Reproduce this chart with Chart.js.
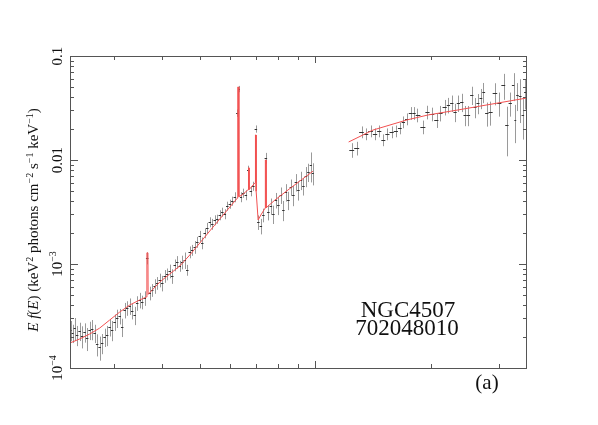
<!DOCTYPE html>
<html>
<head>
<meta charset="utf-8">
<script src="https://cdn.jsdelivr.net/npm/chart.js@4"></script>
<style>
  html, body { margin: 0; padding: 0; background: #fff; }
</style>
</head>
<body>
<canvas id="spec" width="598" height="425"></canvas>
<script>
// XIS (2.3-10 keV) spectrum: energy (keV), E f(E), relative error
const xisE = [
  2.308, 2.336, 2.364, 2.400, 2.436, 2.473, 2.510, 2.548, 2.587, 2.626,
  2.666, 2.706, 2.747, 2.788, 2.830, 2.873, 2.916, 2.960, 3.005, 3.051,
  3.097, 3.144, 3.191, 3.239, 3.288, 3.338, 3.388, 3.439, 3.491, 3.544,
  3.597, 3.652, 3.707, 3.763, 3.819, 3.878, 3.937, 3.997, 4.057, 4.118,
  4.180, 4.243, 4.307, 4.372, 4.438, 4.505, 4.573, 4.642, 4.712, 4.783,
  4.856, 4.929, 5.003, 5.078, 5.155, 5.233, 5.313, 5.393, 5.474, 5.557,
  5.641, 5.726, 5.812, 5.900, 5.989, 6.080, 6.172, 6.267, 6.329, 6.397,
  6.494, 6.592, 6.692, 6.792, 6.895, 7.000, 7.106, 7.213, 7.322, 7.432,
  7.544, 7.658, 7.774, 7.891, 8.010, 8.131, 8.254, 8.379, 8.505, 8.634,
  8.764, 8.897, 9.031, 9.168, 9.306, 9.447, 9.590, 9.734, 9.85
];
const xisF = [
  2.32e-4, 2.17e-4, 2.42e-4, 2.08e-4, 2.27e-4, 2.03e-4, 2.22e-4, 1.94e-4, 2.32e-4, 2.37e-4,
  2.17e-4, 1.70e-4, 1.59e-4, 1.74e-4, 1.99e-4, 2.08e-4, 2.48e-4, 2.32e-4, 2.77e-4, 3.03e-4,
  3.16e-4, 2.48e-4, 3.61e-4, 3.78e-4, 3.95e-4, 3.53e-4, 3.23e-4, 4.22e-4, 4.51e-4, 4.31e-4,
  4.71e-4, 1.14e-3, 5.26e-4, 5.62e-4, 6.15e-4, 6.57e-4, 7.02e-4, 6.57e-4, 7.67e-4, 8.01e-4,
  8.57e-4, 7.67e-4, 9.78e-4, 1.045e-3, 9.57e-4, 1.045e-3, 1.093e-3, 8.76e-4, 1.304e-3, 1.363e-3,
  1.457e-3, 1.627e-3, 1.859e-3, 1.592e-3, 1.987e-3, 2.219e-3, 2.534e-3, 2.424e-3, 2.649e-3, 2.708e-3,
  2.959e-3, 3.162e-3, 3.026e-3, 3.612e-3, 3.775e-3, 4.035e-3, 4.409e-3, 0.0283, 0.0482, 4.41e-3,
  4.82e-3, 4.61e-3, 8.01e-3, 5.03e-3, 5.62e-3, 0.0199, 2.53e-3, 2.32e-3, 2.96e-3, 0.01045,
  3.16e-3, 3.61e-3, 3.03e-3, 4.12e-3, 3.69e-3, 4.61e-3, 3.31e-3, 4.92e-3, 4.12e-3, 5.50e-3,
  4.61e-3, 6.15e-3, 5.15e-3, 6.42e-3, 5.62e-3, 7.02e-3, 7.67e-3, 8.95e-3, 7.50e-3
];
const xisErr = [
  0.22, 0.2, 0.25, 0.22, 0.2, 0.24, 0.21, 0.25, 0.2, 0.22,
  0.2, 0.24, 0.26, 0.22, 0.2, 0.22, 0.19, 0.22, 0.18, 0.2,
  0.17, 0.2, 0.17, 0.16, 0.18, 0.17, 0.2, 0.16, 0.17, 0.15,
  0.16, 0.13, 0.15, 0.14, 0.16, 0.14, 0.15, 0.17, 0.14, 0.13,
  0.15, 0.16, 0.13, 0.14, 0.12, 0.15, 0.18, 0.12, 0.13, 0.12,
  0.14, 0.12, 0.12, 0.13, 0.11, 0.12, 0.11, 0.12, 0.11, 0.1,
  0.11, 0.1, 0.11, 0.1, 0.1, 0.1, 0.11, 0.08, 0.07, 0.11,
  0.1, 0.11, 0.1, 0.11, 0.1, 0.08, 0.16, 0.17, 0.15, 0.12,
  0.17, 0.18, 0.2, 0.17, 0.2, 0.18, 0.22, 0.19, 0.2, 0.18,
  0.22, 0.19, 0.21, 0.2, 0.19, 0.22, 0.2, 0.32, 0.24
];

// HXD-PIN (12-35 keV) spectrum
const pinE = [
  12.43, 12.80, 13.19, 13.53, 13.92, 14.29, 14.66, 15.02, 15.38, 15.79,
  16.18, 16.60, 16.93, 17.28, 17.70, 18.05, 18.41, 19.09, 19.55, 20.07,
  20.68, 21.09, 21.74, 22.17, 22.63, 23.08, 23.54, 24.03, 24.51, 25.00,
  25.51, 26.02, 26.45, 26.98, 27.35, 27.91, 28.47, 29.34, 30.06, 30.84,
  31.48, 32.11, 32.75, 33.08, 33.48, 34.09, 34.65, 35.13
];
const pinF = [
  0.0125, 0.0130, 0.0186, 0.0178, 0.0190, 0.0178, 0.0190, 0.0156, 0.0178, 0.0186,
  0.0190, 0.0203, 0.0232, 0.0248, 0.0283, 0.0283, 0.0271, 0.0208, 0.0289, 0.0277,
  0.0242, 0.0283, 0.0323, 0.0338, 0.0353, 0.0289, 0.0353, 0.0361, 0.0271, 0.0271,
  0.0422, 0.0323, 0.0353, 0.0395, 0.0451, 0.0283, 0.0289, 0.0441, 0.0353, 0.0526,
  0.0217, 0.0353, 0.0526, 0.0242, 0.0422, 0.0412, 0.0271, 0.0451
];
const pinErr = [
  0.16, 0.15, 0.13, 0.13, 0.13, 0.13, 0.13, 0.13, 0.13, 0.13,
  0.13, 0.13, 0.13, 0.13, 0.14, 0.14, 0.15, 0.15, 0.15, 0.15,
  0.16, 0.17, 0.17, 0.17, 0.18, 0.2, 0.18, 0.2, 0.22, 0.22,
  0.2, 0.22, 0.22, 0.22, 0.22, 0.26, 0.26, 0.24, 0.26, 0.28,
  0.5, 0.26, 0.3, 0.4, 0.3, 0.45, 0.42, 0.32
];

// best-fit model (red)
const modelXisE = [
  2.30, 2.436, 2.587, 2.747, 2.916, 3.097, 3.288, 3.491, 3.640, 3.645,
  3.668, 3.672, 3.937, 4.180, 4.438, 4.712, 5.003, 5.313, 5.641, 5.989,
  6.265, 6.28, 6.318, 6.322, 6.44, 6.672, 6.695, 6.698, 6.72, 6.723,
  6.957, 6.98, 6.983, 7.008, 7.012, 7.096, 7.213, 7.40, 7.41, 7.44,
  7.444, 7.845, 8.685, 9.85
];
const modelXisF = [
  1.74e-4, 1.90e-4, 2.12e-4, 2.42e-4, 2.89e-4, 3.45e-4, 4.03e-4, 4.51e-4, 4.82e-4, 1.28e-3,
  1.28e-3, 5.1e-4, 6.71e-4, 8.01e-4, 9.57e-4, 1.22e-3, 1.59e-3, 2.08e-3, 2.71e-3, 3.53e-3,
  4.3e-3, 0.0503, 0.0503, 4.45e-3, 4.6e-3, 5.15e-3, 5.17e-3, 8.4e-3, 8.4e-3, 5.2e-3,
  6.01e-3, 6.05e-3, 0.0174, 0.0174, 5.0e-3, 2.65e-3, 2.96e-3, 3.45e-3, 0.01, 0.01,
  3.47e-3, 4.12e-3, 5.50e-3, 7.8e-3
];
const modelPinE = [12.2, 14.11, 17.31, 19.63, 23.5, 35.5];
const modelPinF = [0.0149, 0.0194, 0.0243, 0.0271, 0.0303, 0.0395];

// axes
const xMin = 2.3, xMax = 35.5;
const yMin = 1e-4, yMax = 0.1;
const xMajorTicks = [10];
const xMinorTicks = [3, 4, 5, 6, 7, 8, 9, 20, 30];
const yDecades = [1e-4, 1e-3, 1e-2, 0.1];
const yMinorMant = [2, 3, 4, 5, 6, 7, 8, 9];
const yTickBase = ['10', '10', '0.01', '0.1'];
const yTickSup = ['\u22124', '\u22123', '', ''];

const SERIF = '"Liberation Serif", "Times New Roman", serif';

function pts(E, F) { return E.map((e, i) => ({ x: e, y: F[i] })); }

function drawErrors(ctx, xs, ys, E, F, err) {
  for (let i = 0; i < E.length; i++) {
    const px = xs.getPixelForValue(E[i]);
    const nx = i < E.length - 1 ? xs.getPixelForValue(E[i + 1]) : null;
    const pv = i > 0 ? xs.getPixelForValue(E[i - 1]) : null;
    const prev = pv !== null ? pv : px - (nx - px);
    const next = nx !== null ? nx : px + (px - prev);
    const xl = (px + prev) / 2, xr = (px + next) / 2;
    const py = ys.getPixelForValue(F[i]);
    const yh = ys.getPixelForValue(F[i] * (1 + err[i]));
    const yl = ys.getPixelForValue(F[i] * (1 - err[i]));
    const cx = Math.round(px) + 0.5;
    ctx.strokeStyle = '#9a9a9a';
    ctx.beginPath(); ctx.moveTo(cx, yh); ctx.lineTo(cx, yl); ctx.stroke();
    ctx.strokeStyle = '#333';
    const cy = Math.round(py) + 0.5;
    ctx.beginPath(); ctx.moveTo(xl, cy); ctx.lineTo(xr, cy); ctx.stroke();
  }
}

// text made of parts (normal / italic / superscript), centred at origin
function drawParts(ctx, parts) {
  let w = 0;
  parts.forEach(p => { ctx.font = p.font; w += ctx.measureText(p.t).width; });
  let x = -w / 2;
  parts.forEach(p => {
    ctx.font = p.font;
    ctx.fillText(p.t, x, p.dy || 0);
    x += ctx.measureText(p.t).width;
  });
}

const specPlugin = {
  id: 'specPlugin',
  beforeDatasetsDraw(chart) {
    const { ctx, chartArea: a } = chart;
    const xs = chart.scales.x, ys = chart.scales.y;
    ctx.save();
    ctx.beginPath(); ctx.rect(a.left, a.top, a.right - a.left, a.bottom - a.top); ctx.clip();
    ctx.lineWidth = 1;
    drawErrors(ctx, xs, ys, xisE, xisF, xisErr);
    drawErrors(ctx, xs, ys, pinE, pinF, pinErr);
    ctx.restore();
  },
  afterDatasetsDraw(chart) {
    const { ctx, chartArea: a } = chart;
    const xs = chart.scales.x, ys = chart.scales.y;
    ctx.save();
    ctx.strokeStyle = '#555';
    ctx.lineWidth = 1;
    ctx.strokeRect(a.left + 0.5, a.top + 0.5, a.right - a.left - 1, a.bottom - a.top);

    const tick = (x1, y1, x2, y2) => { ctx.beginPath(); ctx.moveTo(x1, y1); ctx.lineTo(x2, y2); ctx.stroke(); };
    // x ticks, pointing inward on bottom and top
    xMajorTicks.concat(xMinorTicks).forEach(v => {
      const len = xMajorTicks.includes(v) ? 7 : 4;
      const x = Math.round(xs.getPixelForValue(v)) + 0.5;
      tick(x, a.bottom, x, a.bottom - len);
      tick(x, a.top, x, a.top + len);
    });
    // y ticks on left and right
    yDecades.forEach(d => {
      const y = Math.round(ys.getPixelForValue(d)) + 0.5;
      tick(a.left, y, a.left + 8, y);
      tick(a.right, y, a.right - 8, y);
      if (d < yMax) {
        yMinorMant.forEach(m => {
          const ym = Math.round(ys.getPixelForValue(m * d)) + 0.5;
          tick(a.left, ym, a.left + 4, ym);
          tick(a.right, ym, a.right - 4, ym);
        });
      }
    });

    // y tick labels, rotated
    ctx.fillStyle = '#111';
    ctx.textBaseline = 'alphabetic';
    yDecades.forEach((d, i) => {
      const y = ys.getPixelForValue(d);
      ctx.save();
      ctx.translate(a.left - 8, y);
      ctx.rotate(-Math.PI / 2);
      const parts = [{ t: yTickBase[i], font: '15px ' + SERIF, dy: 0 }];
      if (yTickSup[i]) parts.push({ t: yTickSup[i], font: '10px ' + SERIF, dy: -6 });
      drawParts(ctx, parts);
      ctx.restore();
    });

    // y axis title
    const f = '15px ' + SERIF, fi = 'italic 15px ' + SERIF, fs = '10px ' + SERIF;
    ctx.save();
    ctx.translate(38, 220);
    ctx.rotate(-Math.PI / 2);
    drawParts(ctx, [
      { t: 'E', font: fi }, { t: ' ', font: f }, { t: 'f', font: fi }, { t: '(', font: f },
      { t: 'E', font: fi }, { t: ') (keV', font: f }, { t: '2', font: fs, dy: -5 },
      { t: ' photons cm', font: f }, { t: '\u22122', font: fs, dy: -5 },
      { t: ' s', font: f }, { t: '\u22121', font: fs, dy: -5 },
      { t: ' keV', font: f }, { t: '\u22121', font: fs, dy: -5 }, { t: ')', font: f }
    ]);
    ctx.restore();

    // annotations
    ctx.textAlign = 'center';
    ctx.font = '23px ' + SERIF;
    ctx.fillText('NGC4507', 408, 317);
    ctx.fillText('702048010', 407, 335);
    ctx.font = '21px ' + SERIF;
    ctx.fillText('(a)', 487, 389);
    ctx.restore();
  }
};

new Chart(document.getElementById('spec'), {
  type: 'scatter',
  data: {
    datasets: [
      { label: 'XIS', data: pts(xisE, xisF), pointRadius: 0, showLine: false },
      { label: 'PIN', data: pts(pinE, pinF), pointRadius: 0, showLine: false },
      { label: 'model XIS', data: pts(modelXisE, modelXisF), showLine: true, pointRadius: 0,
        borderColor: '#f25050', borderWidth: 1, tension: 0 },
      { label: 'model PIN', data: pts(modelPinE, modelPinF), showLine: true, pointRadius: 0,
        borderColor: '#f25050', borderWidth: 1, tension: 0 }
    ]
  },
  options: {
    responsive: false,
    animation: false,
    devicePixelRatio: 1,
    layout: { padding: { left: 70, right: 71, top: 56, bottom: 57 } },
    scales: {
      x: { type: 'logarithmic', min: xMin, max: xMax, bounds: 'data', display: false },
      y: { type: 'logarithmic', min: yMin, max: yMax, bounds: 'data', display: false }
    },
    plugins: { legend: { display: false }, tooltip: { enabled: false } }
  },
  plugins: [specPlugin]
});
</script>
</body>
</html>
